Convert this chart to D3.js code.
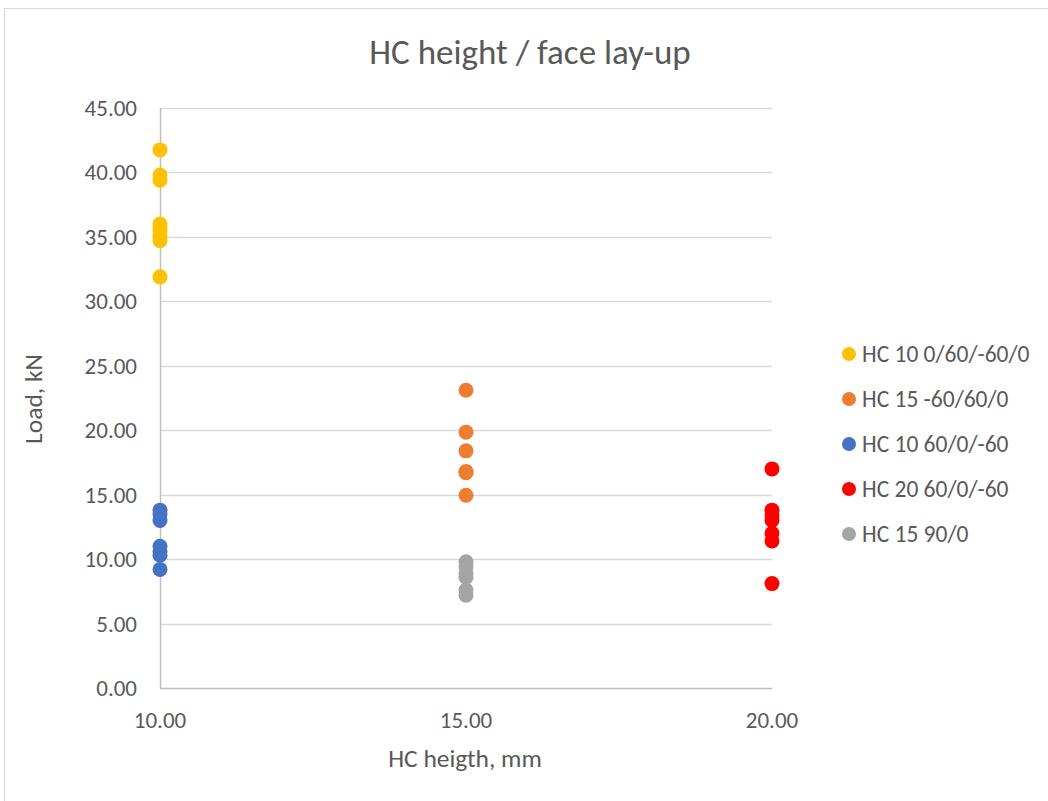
<!DOCTYPE html>
<html>
<head>
<meta charset="utf-8">
<script src="https://cdn.jsdelivr.net/npm/d3@7"></script>
<style>
  body { margin: 0; background: #fff; }
  text { font-family: Carlito, Calibri, "Open Sans", sans-serif; fill: #595959; }
</style>
</head>
<body>
<div id="chart"></div>
<script>
// data
var seriesNames = ["HC 10 0/60/-60/0", "HC 15 -60/60/0", "HC 10 60/0/-60", "HC 20 60/0/-60", "HC 15 90/0"];
var seriesColors = ["#FFC000", "#ED7D31", "#4472C4", "#FF0000", "#A5A5A5"];
var seriesX = [10, 15, 10, 20, 15];
var yellowLoads = [41.75, 39.8, 39.4, 36.0, 35.5, 35.0, 34.7, 31.9];
var orangeLoads = [23.1, 19.85, 18.4, 16.8, 16.7, 14.95];
var blueLoads = [13.8, 13.5, 13.0, 11.0, 10.6, 10.3, 9.2];
var redLoads = [17.0, 13.8, 13.4, 13.0, 12.0, 11.4, 8.1];
var grayLoads = [9.8, 9.4, 8.9, 8.6, 7.6, 7.2];
var xTicks = [10, 15, 20];
var yTicks = [0, 5, 10, 15, 20, 25, 30, 35, 40, 45];

var allLoads = [yellowLoads, orangeLoads, blueLoads, redLoads, grayLoads];

var W = 1048, H = 801;
var svg = d3.select("#chart").append("svg")
  .attr("width", W).attr("height", H);

// chart frame
svg.append("rect")
  .attr("x", 4.5).attr("y", 8.5)
  .attr("width", W + 10).attr("height", H + 10)
  .attr("fill", "#fff").attr("stroke", "#d9d9d9");

var x = d3.scaleLinear().domain([10, 20]).range([160, 772]);
var y = d3.scaleLinear().domain([0, 45]).range([688, 108]);

// gridlines
svg.append("g").selectAll("line")
  .data(yTicks.slice(1))
  .enter().append("line")
  .attr("x1", x(10)).attr("x2", x(20))
  .attr("y1", d => Math.round(y(d)) + 0.5).attr("y2", d => Math.round(y(d)) + 0.5)
  .attr("stroke", "#d9d9d9").attr("stroke-width", 1.3);

// axes lines
svg.append("line")
  .attr("x1", x(10)).attr("x2", x(20))
  .attr("y1", y(0) + 0.5).attr("y2", y(0) + 0.5)
  .attr("stroke", "#bfbfbf").attr("stroke-width", 1.5);
svg.append("line")
  .attr("x1", x(10) + 0.5).attr("x2", x(10) + 0.5)
  .attr("y1", y(0)).attr("y2", y(45))
  .attr("stroke", "#bfbfbf").attr("stroke-width", 1.5);

// tick labels
var fmt = d3.format(".2f");
svg.append("g").selectAll("text")
  .data(yTicks)
  .enter().append("text")
  .attr("x", 137).attr("y", d => y(d) + 8)
  .attr("text-anchor", "end")
  .attr("font-size", 23)
  .text(d => fmt(d));

svg.append("g").selectAll("text")
  .data(xTicks)
  .enter().append("text")
  .attr("x", d => x(d)).attr("y", 728)
  .attr("text-anchor", "middle")
  .attr("font-size", 23)
  .text(d => fmt(d));

// titles
svg.append("text")
  .attr("x", 530).attr("y", 64)
  .attr("text-anchor", "middle")
  .attr("font-size", 35)
  .text("HC height / face lay-up");

svg.append("text")
  .attr("transform", "translate(42,399) rotate(-90)")
  .attr("text-anchor", "middle")
  .attr("font-size", 25.5)
  .text("Load, kN");

svg.append("text")
  .attr("x", 465).attr("y", 767)
  .attr("text-anchor", "middle")
  .attr("font-size", 25.5)
  .text("HC heigth, mm");

// points
seriesNames.forEach(function(name, i){
  svg.append("g").selectAll("circle")
    .data(allLoads[i])
    .enter().append("circle")
    .attr("cx", x(seriesX[i]))
    .attr("cy", d => y(d))
    .attr("r", 7.5)
    .attr("fill", seriesColors[i]);
});

// legend
var leg = svg.append("g").selectAll("g")
  .data(seriesNames)
  .enter().append("g")
  .attr("transform", (d, i) => "translate(849," + (354 + i * 45) + ")");
leg.append("circle").attr("r", 7).attr("fill", (d, i) => seriesColors[i]);
leg.append("text")
  .attr("x", 13).attr("y", 8)
  .attr("font-size", 23.5)
  .text(d => d);
</script>
</body>
</html>
